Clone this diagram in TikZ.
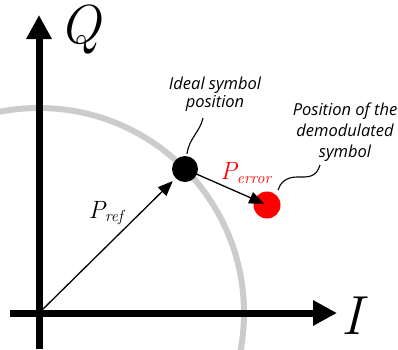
\documentclass[tikz,border=0pt]{standalone}
\usepackage{fontspec}
\usetikzlibrary{arrows.meta}
\newfontfamily\annfont{Open Sans}
\definecolor{circgray}{RGB}{204,204,204}
\definecolor{errred}{RGB}{255,0,0}
\begin{document}
\begin{tikzpicture}[x=1pt,y=-1pt,
  axis/.style={line width=7pt,-{Triangle[length=24pt,width=24pt]}},
  vec/.style={line width=1.3pt,-{Triangle[length=15pt,width=12pt]}},
  dot/.style={circle,inner sep=0pt},
  ann/.style={font=\annfont\itshape\fontsize{16.5}{18}\selectfont,align=center,inner sep=0pt},
  axlabel/.style={font=\itshape\fontsize{55}{55}\selectfont,inner sep=0pt,anchor=base west},
  plabel/.style={font=\itshape\fontsize{25}{25}\selectfont,inner sep=0pt},
  pointer/.style={line width=1.1pt}]
\useasboundingbox (0,0) rectangle (398,349);
\begin{scope}
\clip (0,0) rectangle (398,349);
\coordinate (O) at (39,313);
\draw[circgray,line width=6pt] (O) circle[radius=205];
\coordinate (ybot) at (39,349);
\coordinate (ytop) at (39,15);
\coordinate (xleft) at (10,313);
\coordinate (xright) at (337,313);
\draw[axis] (ybot) -- (ytop);
\draw[axis] (xleft) -- (xright);
\end{scope}
\node[axlabel] (Q) at (59,43) {Q};
\node[axlabel] (I) at (341,334) {I};
\node[dot,fill=black,minimum size=26pt] (ideal) at (185,169) {};
\node[dot,fill=errred,minimum size=27pt] (err) at (267,205) {};
\draw[vec,shorten >=4pt] (O) -- (ideal);
\draw[vec,shorten >=3pt] (ideal.center) -- (err.center);
\node[plabel] (pref) at (106,213) {P\textsubscript{\fontsize{16}{16}\selectfont ref}};
\node[plabel,text=errred] (perr) at (246,173) {P\textsubscript{\fontsize{16}{16}\selectfont error}};
\node[ann] (idtxt) at (215,94) {Ideal symbol\\position};
\node[ann,font=\annfont\itshape\fontsize{16.5}{21}\selectfont] (dmtxt) at (345,132) {Position of the\\demodulated\\symbol};
\coordinate (p1) at (203,118);
\coordinate (p2) at (187,154);
\draw[pointer] (p1) .. controls (200,132) and (189,138) .. (p2);
\coordinate (q1) at (320,165);
\coordinate (q2) at (278,190);
\draw[pointer] (q1) .. controls (316,178) and (308,177) .. (297,177) .. controls (286,177) and (280,183) .. (q2);
\end{tikzpicture}
\end{document}
